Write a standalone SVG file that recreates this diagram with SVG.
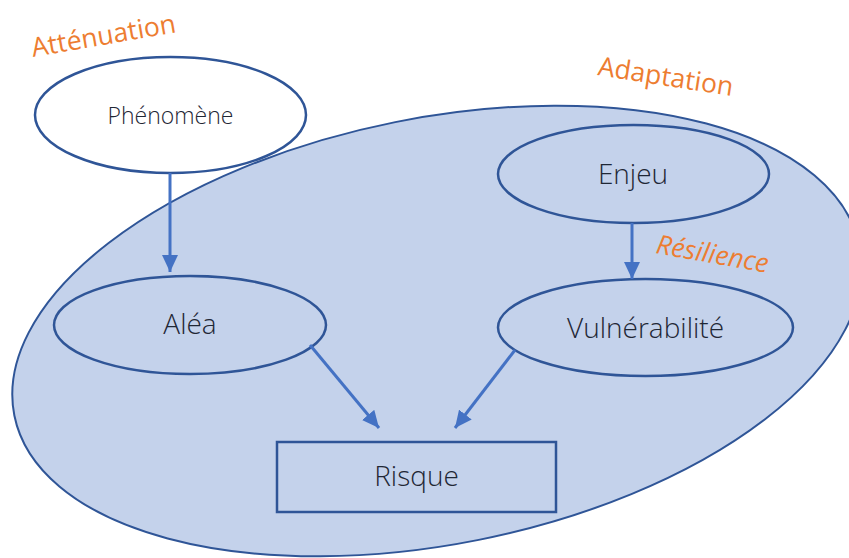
<svg xmlns="http://www.w3.org/2000/svg" width="849" height="558" viewBox="0 0 849 558">
  <style>
    .node { fill: #C4D2EB; stroke: #2F5597; stroke-width: 2.5; }
    .lbl { font-family: "Open Sans", "Noto Sans", sans-serif; font-weight: 300; fill: #1F2735; text-anchor: middle; }
    .orange { font-family: "Open Sans", "Noto Sans", sans-serif; font-weight: 400; fill: #ED7D31; font-size: 26.5px; }
    .conn { stroke: #4472C4; stroke-width: 3; fill: none; }
  </style>
  <defs>
    <marker id="arr" markerUnits="userSpaceOnUse" markerWidth="18" markerHeight="16" refX="17" refY="8" orient="auto">
      <path d="M0,0 L17,8 L0,16 Z" fill="#4472C4"/>
    </marker>
  </defs>
  <rect width="849" height="558" fill="#FFFFFF"/>
  <g id="domaine">
    <ellipse cx="437" cy="331" rx="431" ry="213" transform="rotate(-11.3 437 331)" fill="#C4D2EB" stroke="#2F5597" stroke-width="2"/>
  </g>
  <g id="phenomene">
    <ellipse cx="170.5" cy="115" rx="135.5" ry="58" fill="#FFFFFF" stroke="#2F5597" stroke-width="2.5"/>
    <text class="lbl" x="170.5" y="124" font-size="23">Phénomène</text>
  </g>
  <g id="alea">
    <ellipse class="node" cx="190" cy="325" rx="136" ry="49"/>
    <text class="lbl" x="190" y="334" font-size="28">Aléa</text>
  </g>
  <g id="enjeu">
    <ellipse class="node" cx="633.5" cy="174" rx="135.5" ry="49"/>
    <text class="lbl" x="633" y="184" font-size="28">Enjeu</text>
  </g>
  <g id="vulnerabilite">
    <ellipse class="node" cx="645.5" cy="327.5" rx="147.5" ry="48.5"/>
    <text class="lbl" x="645.5" y="338" font-size="28">Vulnérabilité</text>
  </g>
  <g id="risque">
    <rect class="node" x="277" y="442" width="279" height="70"/>
    <text class="lbl" x="416.5" y="486" font-size="28">Risque</text>
  </g>
  <g id="connecteurs">
    <line class="conn" x1="170" y1="173" x2="170" y2="272" marker-end="url(#arr)"/>
    <line class="conn" x1="632" y1="223" x2="632" y2="279" marker-end="url(#arr)"/>
    <line class="conn" x1="310" y1="345" x2="379" y2="428" marker-end="url(#arr)"/>
    <line class="conn" x1="515" y1="350" x2="455" y2="428" marker-end="url(#arr)"/>
  </g>
  <g id="etiquettes">
    <text class="orange" transform="translate(33 57) rotate(-9.8)">Atténuation</text>
    <text class="orange" transform="translate(597 75) rotate(8.9)">Adaptation</text>
    <text class="orange" font-style="italic" font-weight="300" font-size="28" transform="translate(655 253) rotate(10)">Résilience</text>
  </g>
</svg>
